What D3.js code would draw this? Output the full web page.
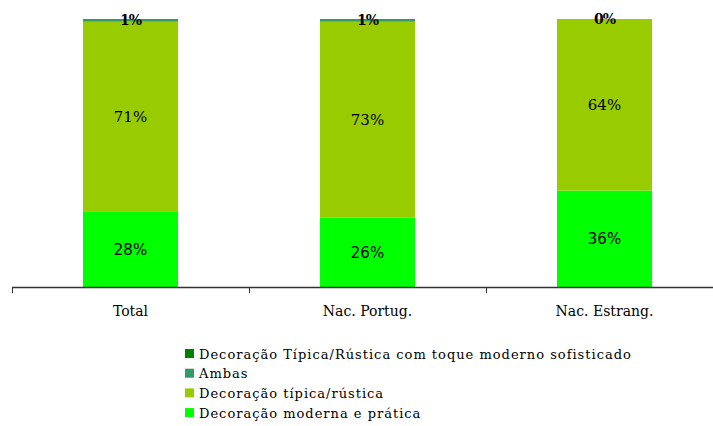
<!DOCTYPE html>
<html>
<head>
<meta charset="utf-8">
<script src="https://cdn.jsdelivr.net/npm/d3@7"></script>
<style>
  html, body { margin: 0; padding: 0; background: #fff; }
  svg { display: block; }
</style>
</head>
<body>
<svg id="chart" width="713" height="426"></svg>
<script>
// Categories and stacked shares (percent)
const categories = ["Total", "Nac. Portug.", "Nac. Estrang."];
const moderna = [28, 26, 36];       // Decoração moderna e prática
const tipica = [71, 73, 64];        // Decoração típica/rústica
const ambas = [1, 1, 0];            // Ambas
const sofisticado = [0, 0, 0];      // Decoração Típica/Rústica com toque moderno sofisticado

const seriesNames = [
  "Decoração moderna e prática",
  "Decoração típica/rústica",
  "Ambas",
  "Decoração Típica/Rústica com toque moderno sofisticado"
];
const seriesValues = [moderna, tipica, ambas, sofisticado];
const seriesColors = ["#00ff00", "#99cc00", "#339966", "#008000"];

const serif = "'DejaVu Serif', 'Liberation Serif', serif";
const sans = "'DejaVu Sans', Verdana, sans-serif";

const svg = d3.select("#chart");
const axisY = 287;
const topY = 19;

const x = d3.scaleBand()
  .domain(categories)
  .range([12, 723])
  .paddingInner(0)
  .paddingOuter(0);

const y = d3.scaleLinear().domain([0, 100]).range([axisY, topY]);

const barW = 95;

// Stacked rows
const rows = categories.map((c, i) => {
  const r = { cat: c };
  seriesNames.forEach((s, k) => r[s] = seriesValues[k][i]);
  return r;
});
const stack = d3.stack().keys(seriesNames)(rows);

const g = svg.append("g");
stack.forEach((layer, k) => {
  g.selectAll(null)
    .data(layer)
    .enter()
    .append("rect")
    .attr("x", d => x(d.data.cat) + x.bandwidth() / 2 - barW / 2)
    .attr("width", barW)
    .attr("y", d => y(d[1]))
    .attr("height", d => y(d[0]) - y(d[1]))
    .attr("fill", seriesColors[k]);
});

// Value labels for the two main segments
const labelFonts = [sans, serif];
[0, 1].forEach(k => {
  g.selectAll(null)
    .data(stack[k])
    .enter()
    .append("text")
    .attr("x", d => x(d.data.cat) + x.bandwidth() / 2)
    .attr("y", d => (y(d[0]) + y(d[1])) / 2)
    .attr("dy", "0.36em")
    .attr("text-anchor", "middle")
    .attr("font-family", labelFonts[k])
    .attr("font-size", 15)
    .attr("fill", "#000")
    .text(d => (d[1] - d[0]) + "%");
});

// Top label for the thin "Ambas" segment
g.selectAll(null)
  .data(stack[2])
  .enter()
  .append("text")
  .attr("x", d => x(d.data.cat) + x.bandwidth() / 2)
  .attr("y", d => (y(d[0]) + y(d[1])) / 2)
  .attr("dy", "0.36em")
  .attr("text-anchor", "middle")
  .attr("font-family", serif)
  .attr("font-weight", "bold")
  .attr("font-size", 14)
  .attr("letter-spacing", -1)
  .attr("fill", "#000")
  .text(d => (d[1] - d[0]) + "%");

// Category axis with ticks at band boundaries
const axis = svg.append("g");
axis.append("line")
  .attr("x1", x.range()[0]).attr("x2", 713)
  .attr("y1", axisY + 0.5).attr("y2", axisY + 0.5)
  .attr("stroke", "#333").attr("stroke-width", 1.5);
axis.selectAll(null)
  .data(categories)
  .enter()
  .append("line")
  .attr("x1", d => x(d) + 0.5).attr("x2", d => x(d) + 0.5)
  .attr("y1", axisY).attr("y2", axisY + 6)
  .attr("stroke", "#333").attr("stroke-width", 1);
axis.selectAll(null)
  .data(categories)
  .enter()
  .append("text")
  .attr("x", d => x(d) + x.bandwidth() / 2)
  .attr("y", 316)
  .attr("text-anchor", "middle")
  .attr("font-family", serif)
  .attr("font-size", 14)
  .attr("fill", "#000")
  .text(d => d);

// Legend (top entry is the last series)
const legendOrder = [3, 2, 1, 0];
const legend = svg.append("g");
legendOrder.forEach((k, i) => {
  const ly = 354 + i * 19.7;
  legend.append("rect")
    .attr("x", 185).attr("y", ly - 5)
    .attr("width", 9).attr("height", 9)
    .attr("fill", seriesColors[k]);
  legend.append("text")
    .attr("x", 199).attr("y", ly)
    .attr("dy", "0.35em")
    .attr("font-family", serif)
    .attr("font-size", 13)
    .attr("letter-spacing", 1)
    .attr("fill", "#000")
    .text(seriesNames[k]);
});
</script>
</body>
</html>
